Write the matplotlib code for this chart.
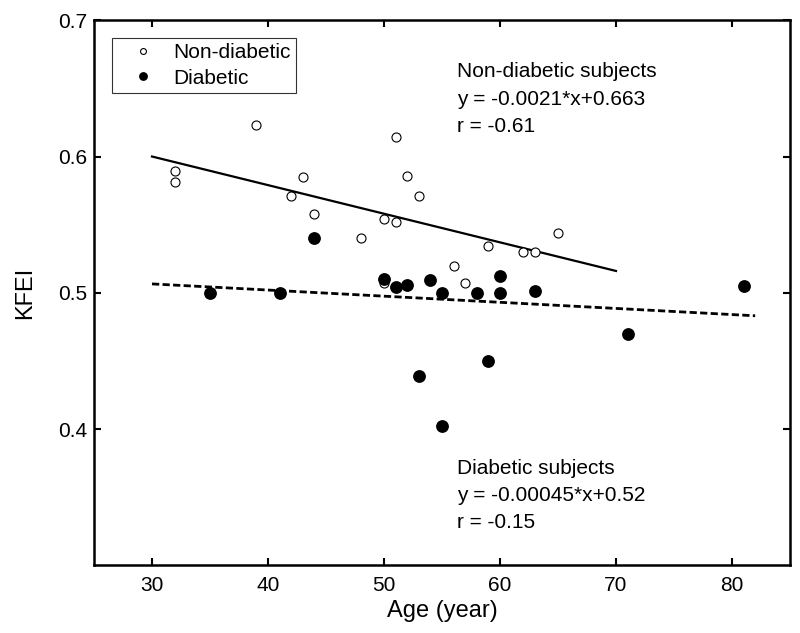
import numpy as np
import matplotlib
matplotlib.use('Agg')
import matplotlib.pyplot as plt

plt.rcParams['font.family'] = ['Liberation Sans', 'DejaVu Sans']

# non-diabetic subjects
age_nd = [32, 32, 39, 42, 43, 44, 48, 50, 50, 51, 51, 52, 53, 56, 57, 59, 62, 63, 65]
kfei_nd = [0.589, 0.581, 0.623, 0.571, 0.585, 0.558, 0.540, 0.554, 0.507, 0.614,
           0.552, 0.586, 0.571, 0.520, 0.507, 0.534, 0.530, 0.530, 0.544]

# diabetic subjects
age_d = [35, 41, 44, 50, 51, 52, 53, 54, 55, 55, 58, 59, 60, 60, 63, 71, 81]
kfei_d = [0.500, 0.500, 0.540, 0.510, 0.504, 0.506, 0.439, 0.509, 0.500, 0.402,
          0.500, 0.450, 0.512, 0.500, 0.501, 0.470, 0.505]

# regression lines (slope, intercept, age range)
fit_nd = (-0.0021, 0.663, [30, 70])
fit_d = (-0.00045, 0.52, [30, 82])


def main():
    fig = plt.figure(figsize=(8, 6.33), dpi=100)
    ax = fig.add_axes([0.1175, 0.107, 0.87, 0.861])

    ax.plot(age_nd, kfei_nd, 'o', mfc='white', mec='black', mew=0.8, ms=6.5,
            label='Non-diabetic', zorder=3)
    ax.plot(age_d, kfei_d, 'o', mfc='black', mec='black', ms=8.2,
            label='Diabetic', zorder=4)

    x = np.array(fit_nd[2])
    ax.plot(x, fit_nd[0] * x + fit_nd[1], '-', color='black', lw=1.6)
    x = np.array(fit_d[2])
    ax.plot(x, fit_d[0] * x + fit_d[1], '--', color='black', lw=2.0, dashes=(2.6, 1.2))

    ax.set_xlim(25, 85)
    ax.set_ylim(0.3, 0.7)
    ax.set_xticks([30, 40, 50, 60, 70, 80])
    ax.set_yticks([0.4, 0.5, 0.6, 0.7])
    ax.set_yticklabels(['0.4', '0.5', '0.6', '0.7'])
    ax.tick_params(direction='in', length=5, width=1.5, labelsize=15,
                   top=True, right=True)
    ax.tick_params(axis='x', pad=8)
    ax.tick_params(axis='y', pad=5)
    for s in ax.spines.values():
        s.set_linewidth(1.8)

    ax.set_xlabel('Age (year)', fontsize=17, labelpad=3)
    ax.set_ylabel('KFEI', fontsize=17, labelpad=16)

    leg = ax.legend(loc='upper left', bbox_to_anchor=(0.026, 0.967), borderaxespad=0,
                    fontsize=15, fancybox=False, edgecolor='black',
                    handlelength=2.5, handletextpad=0.2, markerscale=0.65,
                    borderpad=0.25, labelspacing=0.3)
    leg.get_frame().set_linewidth(0.8)

    ax.text(56.3, 0.669, 'Non-diabetic subjects\ny = -0.0021*x+0.663\nr = -0.61',
            fontsize=15, va='top', ha='left', linespacing=1.55)
    ax.text(56.3, 0.378, 'Diabetic subjects\ny = -0.00045*x+0.52\nr = -0.15',
            fontsize=15, va='top', ha='left', linespacing=1.55)

    fig.savefig('out.png', dpi=100)


if __name__ == '__main__':
    main()
